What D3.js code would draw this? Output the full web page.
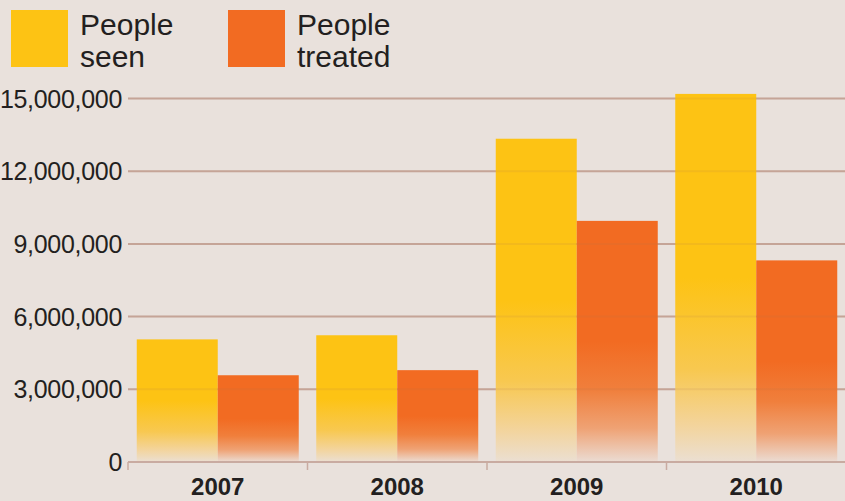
<!DOCTYPE html>
<html>
<head>
<meta charset="utf-8">
<script src="https://cdn.jsdelivr.net/npm/d3@7"></script>
<style>
  html, body { margin: 0; padding: 0; background: #e9e1dc; }
  svg { display: block; font-family: "Liberation Sans", Arial, sans-serif; }
</style>
</head>
<body>
<svg id="chart" width="845" height="501"></svg>
<script>
const years = ["2007", "2008", "2009", "2010"];
const seriesNames = ["People seen", "People treated"];
const legendLines = [["People", "seen"], ["People", "treated"]];
const peopleSeen = [5060000, 5230000, 13340000, 15190000];
const peopleTreated = [3580000, 3790000, 9950000, 8320000];
const yTicks = [0, 3000000, 6000000, 9000000, 12000000, 15000000];
const colors = ["#fdc314", "#f26b22"];

const W = 845, H = 501;
const bg = "#e9e1dc";
const gridColor = "#c9aba1";
const textColor = "#231f20";

const svg = d3.select("#chart");
svg.append("rect").attr("width", W).attr("height", H).attr("fill", bg);

const x0 = d3.scaleBand().domain(years).range([128, 846]).padding(0);
const x1 = d3.scaleBand().domain(seriesNames).range([0, x0.bandwidth()]).paddingInner(0).paddingOuter(0.108);
const y = d3.scaleLinear().domain([0, 15000000]).range([462, 98.5]);

// gradients
const gradStops = [
  [[0, "#fdc314"], [0.5, "#fdc314"], [0.75, "#f8c850"], [0.9, "#f3d49c"], [1, "#ebdfd2"]],
  [[0, "#f26b22"], [0.5, "#f26b22"], [0.7, "#f07f3c"], [0.86, "#efa274"], [1, "#ebdcd3"]]
];
const defs = svg.append("defs");
gradStops.forEach((stops, i) => {
  const g = defs.append("linearGradient").attr("id", "grad" + i)
    .attr("x1", 0).attr("y1", 0).attr("x2", 0).attr("y2", 1);
  stops.forEach(s => g.append("stop").attr("offset", s[0]).attr("stop-color", s[1]));
});

// gridlines (behind)
const gridVals = yTicks.filter(d => d > 0);
svg.append("g").selectAll("line").data(gridVals).join("line")
  .attr("x1", 128).attr("x2", W)
  .attr("y1", d => y(d)).attr("y2", d => y(d))
  .attr("stroke", gridColor).attr("stroke-width", 2);

// bars
const data = years.map((yr, i) => ({ year: yr, values: [peopleSeen[i], peopleTreated[i]] }));
const groups = svg.append("g").selectAll("g").data(data).join("g")
  .attr("transform", d => `translate(${x0(d.year)},0)`);
groups.selectAll("rect").data(d => d.values.map((v, k) => ({ v, k }))).join("rect")
  .attr("x", d => x1(seriesNames[d.k]))
  .attr("width", x1.bandwidth())
  .attr("y", d => y(d.v))
  .attr("height", d => y(0) - y(d.v))
  .attr("fill", d => `url(#grad${d.k})`);

// faint gridlines showing through bars
svg.append("g").selectAll("line").data(gridVals).join("line")
  .attr("x1", 128).attr("x2", W)
  .attr("y1", d => y(d)).attr("y2", d => y(d))
  .attr("stroke", "#b07050").attr("stroke-opacity", 0.12).attr("stroke-width", 2);

// x axis
const xAxis = svg.append("g").attr("transform", `translate(0,${y(0)})`);
xAxis.append("line").attr("x1", 128).attr("x2", W).attr("stroke", gridColor).attr("stroke-width", 2);
const boundaries = years.map(yr => x0(yr)).concat([x0(years[years.length - 1]) + x0.bandwidth()]);
xAxis.selectAll("line.tick").data(boundaries).join("line").attr("class", "tick")
  .attr("x1", d => d).attr("x2", d => d).attr("y1", 0).attr("y2", 8)
  .attr("stroke", gridColor).attr("stroke-width", 1.5);
xAxis.selectAll("text").data(years).join("text")
  .attr("x", d => x0(d) + x0.bandwidth() / 2)
  .attr("y", 33)
  .attr("text-anchor", "middle")
  .attr("font-size", 24).attr("font-weight", "bold")
  .attr("fill", textColor)
  .text(d => d);

// y labels
const fmt = d3.format(",");
svg.append("g").selectAll("text").data(yTicks).join("text")
  .attr("x", 122)
  .attr("y", d => y(d) + 9)
  .attr("text-anchor", "end")
  .attr("font-size", 25)
  .attr("letter-spacing", -0.3)
  .attr("fill", textColor)
  .text(d => fmt(d));

// legend
const legendX = [11, 228];
const leg = svg.append("g").selectAll("g").data(seriesNames).join("g")
  .attr("transform", (d, i) => `translate(${legendX[i]},10)`);
leg.append("rect").attr("width", 57).attr("height", 57).attr("fill", (d, i) => colors[i]);
leg.each(function(d, i) {
  const t = d3.select(this).append("text")
    .attr("x", 69).attr("font-size", 30).attr("fill", textColor);
  legendLines[i].forEach((ln, j) => {
    t.append("tspan").attr("x", 69).attr("y", 24.5 + j * 32.5).text(ln);
  });
});
</script>
</body>
</html>
